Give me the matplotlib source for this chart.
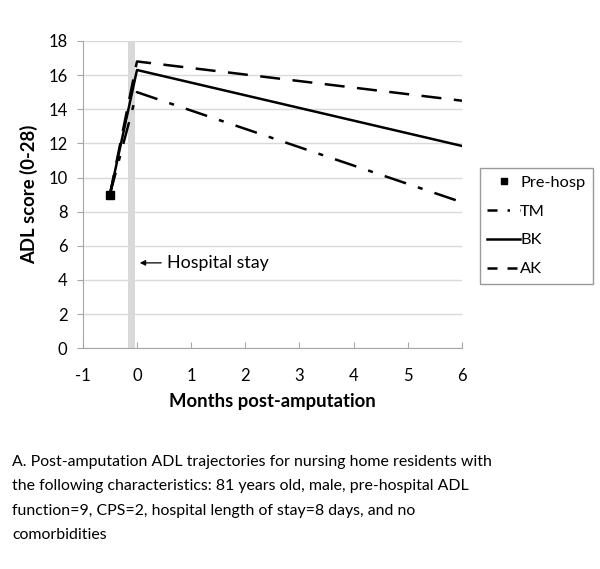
import matplotlib
matplotlib.use("Agg")
import matplotlib.pyplot as plt
from matplotlib.lines import Line2D

plt.rcParams['font.family'] = ['Lato', 'DejaVu Sans']

# Data
pre_x = [-0.5]
pre_y = [9]
months = [-0.5, 0, 6]
tm = [9, 15.0, 8.55]
bk = [9, 16.3, 11.85]
ak = [9, 16.8, 14.5]
hosp_band = (-0.17, -0.03)
xticks = [-1, 0, 1, 2, 3, 4, 5, 6]
yticks = [0, 2, 4, 6, 8, 10, 12, 14, 16, 18]
caption_lines = [
    'A. Post-amputation ADL trajectories for nursing home residents with',
    'the following characteristics: 81 years old, male, pre-hospital ADL',
    'function=9, CPS=2, hospital length of stay=8 days, and no',
    'comorbidities',
]

fig = plt.figure(figsize=(6, 5.69), dpi=100)
ax = fig.add_axes([0.138, 0.388, 0.632, 0.54])

ax.axvspan(*hosp_band, color='#d9d9d9', lw=0, zorder=1)
ax.plot(months, tm, color='black', lw=1.8, dashes=(9, 5, 2, 5), zorder=3)
ax.plot(months, bk, color='black', lw=1.8, zorder=3)
ax.plot(months, ak, color='black', lw=1.8, dashes=(8, 5), zorder=3)
ax.plot(pre_x, pre_y, 's', color='black', ms=6, zorder=4)

ax.annotate('Hospital stay', xy=(0.0, 5.0), xytext=(0.55, 5.0),
            fontsize=12.8, va='center', ha='left',
            arrowprops=dict(arrowstyle='-|>', color='black', lw=0.9, mutation_scale=8))

ax.set_xlim(-1, 6)
ax.set_ylim(0, 18)
ax.set_xticks(xticks)
ax.set_yticks(yticks)
ax.set_xticklabels([str(v) for v in xticks])
ax.grid(axis='y', color='#d9d9d9', lw=1)
ax.set_axisbelow(True)
for s in ['top', 'right']:
    ax.spines[s].set_visible(False)
for s in ['left', 'bottom']:
    ax.spines[s].set_color('#a6a6a6')
ax.tick_params(axis='both', labelsize=12, colors='#a6a6a6', labelcolor='black', length=4)
ax.tick_params(axis='x', direction='in', pad=14)
ax.tick_params(axis='y', direction='out', pad=7)
ax.set_xlabel('Months post-amputation', fontsize=13.3, fontweight='bold', labelpad=7)
ax.set_ylabel('ADL score (0-28)', fontsize=13.3, fontweight='bold', labelpad=7)

handles = [
    Line2D([], [], marker='s', color='black', ls='none', ms=5),
    Line2D([], [], color='black', lw=1.8, dashes=(4, 4, 1, 4)),
    Line2D([], [], color='black', lw=1.8),
    Line2D([], [], color='black', lw=1.8, dashes=(4, 4)),
]
leg = fig.legend(handles, ['Pre-hosp', 'TM', 'BK', 'AK'],
                 loc='upper left', bbox_to_anchor=(0.8, 0.705),
                 fontsize=11.8, frameon=True, fancybox=False, edgecolor='#808080',
                 handlelength=2.0, handletextpad=0.0, labelspacing=0.88, borderpad=0.45,
                 borderaxespad=0)
leg.get_frame().set_linewidth(1.0)

H = 569.0
for i, line in enumerate(caption_lines):
    fig.text(0.02, 1 - (462 + 24.4 * i) / H, line, fontsize=11.4, va='center', ha='left')

fig.savefig('out.png', dpi=100, facecolor='white')
